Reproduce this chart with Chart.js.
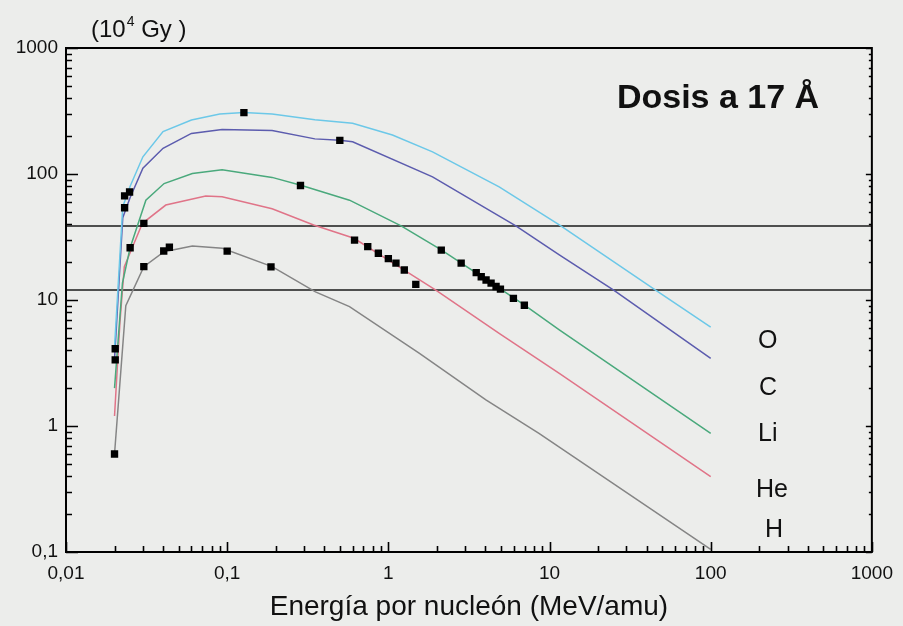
<!DOCTYPE html>
<html>
<head>
<meta charset="utf-8">
<script src="https://cdn.jsdelivr.net/npm/chart.js@4"></script>
<style>
  html, body { margin: 0; padding: 0; background: #ecedeb; }
  #wrap { width: 903px; height: 626px; position: relative; }
</style>
</head>
<body>
<div id="wrap"><canvas id="myChart"></canvas></div>
<script>
// energy per nucleon (MeV/amu), dose (10^4 Gy)
var curveO = [[0.02, 4.2], [0.0225, 55], [0.025, 80], [0.03, 137], [0.04, 217], [0.06, 268], [0.09, 299], [0.127, 307], [0.19, 300], [0.35, 270], [0.6, 253], [1.06, 204], [1.88, 150], [4.87, 79], [11.5, 39.4], [45.5, 12], [100, 6.1]];
var curveC = [[0.02, 3.4], [0.0225, 45], [0.025, 65], [0.03, 111], [0.04, 160], [0.06, 210], [0.093, 226], [0.19, 221], [0.35, 190], [0.5, 185], [0.6, 180], [1.88, 95], [6.18, 38.7], [11.5, 22.8], [25, 12], [100, 3.44]];
var curveLi = [[0.02, 2.0], [0.0224, 13.6], [0.025, 26], [0.0313, 62], [0.0406, 84], [0.0608, 101], [0.093, 108], [0.19, 94], [0.29, 81], [0.574, 62], [1.2, 38.7], [2.13, 25], [4.87, 12.4], [7, 9.1], [11.5, 5.8], [100, 0.875]];
var curveHe = [[0.02, 1.2], [0.0216, 6.6], [0.023, 18.4], [0.0298, 40.6], [0.0416, 56.7], [0.0736, 66.9], [0.093, 66], [0.19, 53], [0.344, 39.4], [0.612, 30.9], [1.35, 16.3], [1.97, 12], [4.87, 5.44], [11.5, 2.62], [100, 0.396]];
var curveH = [[0.02, 0.6], [0.0235, 9], [0.0304, 18.4], [0.0406, 24.2], [0.0608, 26.8], [0.0934, 25.7], [0.19, 18.4], [0.353, 11.6], [0.574, 8.85], [1.56, 3.77], [4.03, 1.61], [8.6, 0.875], [100, 0.105]];

var measured = [[0.02, 0.6], [0.0202, 4.1], [0.0202, 3.35], [0.0231, 54], [0.0231, 67], [0.0248, 72], [0.025, 26], [0.0304, 40.6], [0.0304, 18.4], [0.0404, 24.5], [0.0438, 26.2], [0.1, 24.4], [0.187, 18.3], [0.127, 307], [0.5, 185], [0.285, 81], [0.617, 29.9], [0.745, 26.5], [0.867, 23.5], [1.0, 21.3], [1.115, 19.6], [1.256, 17.3], [1.48, 13.3], [2.13, 24.9], [2.83, 19.6], [3.51, 16.5], [3.77, 15.3], [4.04, 14.4], [4.34, 13.6], [4.66, 12.8], [4.96, 12.2], [5.97, 10.3], [6.98, 9.08]];

var refLevels = [38.7, 12.0];

var ionNames = ["O", "C", "Li", "He", "H"];
var xTickValues = [0.01, 0.1, 1, 10, 100, 1000];
var xTickLabels = ["0,01", "0,1", "1", "10", "100", "1000"];
var yTickValues = [0.1, 1, 10, 100, 1000];
var yTickLabels = ["0,1", "1", "10", "100", "1000"];

var ionColors = ["#6cc8e8", "#5c5cae", "#4aa97c", "#e07488", "#858585"];
var FONT = "'Liberation Sans', Arial, sans-serif";

function toPoints(arr) {
  return arr.map(function (p) { return { x: p[0], y: p[1] }; });
}

var datasets = [];
datasets.push({
  type: "scatter",
  data: toPoints(measured),
  pointStyle: "rect",
  pointRadius: 5.2,
  backgroundColor: "#000",
  borderColor: "#000",
  borderWidth: 0,
  showLine: false
});
[curveO, curveC, curveLi, curveHe, curveH].forEach(function (c, i) {
  datasets.push({
    label: ionNames[i],
    data: toPoints(c),
    borderColor: ionColors[i],
    borderWidth: 1.5,
    pointRadius: 0,
    tension: 0,
    fill: false
  });
});
refLevels.forEach(function (lv) {
  datasets.push({
    data: [{ x: 0.01, y: lv }, { x: 1000, y: lv }],
    borderColor: "#1a1a1a",
    borderWidth: 1.5,
    pointRadius: 0,
    fill: false
  });
});

var decorPlugin = {
  id: "decor",
  afterDraw: function (chart) {
    var ctx = chart.ctx;
    var a = chart.chartArea;
    var xs = chart.scales.x, ys = chart.scales.y;
    ctx.save();
    ctx.strokeStyle = "#000";
    ctx.lineWidth = 2;
    ctx.strokeRect(a.left, a.top, a.right - a.left, a.bottom - a.top);

    // inward ticks
    ctx.lineWidth = 1.6;
    ctx.beginPath();
    var d, m, v, p, len;
    for (d = -2; d <= 3; d++) {
      for (m = 1; m <= 9; m++) {
        v = m * Math.pow(10, d);
        if (v > 1000.0001) break;
        p = Math.round(xs.getPixelForValue(v)) + 0.5;
        len = m === 1 ? 10 : 6;
        ctx.moveTo(p, a.bottom);
        ctx.lineTo(p, a.bottom - len);
      }
    }
    for (d = -1; d <= 3; d++) {
      for (m = 1; m <= 9; m++) {
        v = m * Math.pow(10, d);
        if (v > 1000.0001) break;
        p = Math.round(ys.getPixelForValue(v)) + 0.5;
        len = m === 1 ? 12 : 6;
        ctx.moveTo(a.left, p);
        ctx.lineTo(a.left + len, p);
        ctx.moveTo(a.right, p);
        ctx.lineTo(a.right - (m === 1 ? 6 : 3), p);
      }
    }
    ctx.stroke();

    ctx.fillStyle = "#111";
    // title
    ctx.font = "bold 34px " + FONT;
    ctx.textAlign = "center";
    ctx.textBaseline = "alphabetic";
    ctx.fillText("Dosis a 17 Å", 718, 108);

    // ion labels
    ctx.font = "25px " + FONT;
    ctx.textAlign = "left";
    ctx.textBaseline = "middle";
    var labelX = [758, 759, 758, 756, 765];
    var labelY = [341, 388, 434, 490, 530];
    ionNames.forEach(function (n, i) {
      ctx.fillText(n, labelX[i], labelY[i]);
    });

    // unit above y axis
    ctx.textBaseline = "alphabetic";
    var x0 = 91, base = 37;
    ctx.font = "24px " + FONT;
    ctx.fillText("(10", x0, base);
    x0 += ctx.measureText("(10").width + 1;
    ctx.font = "14px " + FONT;
    ctx.fillText("4", x0, base - 11);
    x0 += ctx.measureText("4").width;
    ctx.font = "24px " + FONT;
    ctx.fillText(" Gy )", x0, base);
    ctx.restore();
  }
};

var ctx = document.getElementById("myChart").getContext("2d");
var myChart = new Chart(ctx, {
  type: "line",
  data: { datasets: datasets },
  plugins: [decorPlugin],
  options: {
    responsive: true,
    maintainAspectRatio: false,
    animation: false,
    layout: { padding: { top: 48, right: 27, bottom: 0, left: 0 } },
    plugins: {
      legend: { display: false },
      tooltip: { enabled: false }
    },
    scales: {
      x: {
        type: "logarithmic",
        min: 0.01,
        max: 1000,
        grid: { display: false, drawTicks: false },
        border: { display: false },
        afterBuildTicks: function (scale) {
          scale.ticks = xTickValues.map(function (v) { return { value: v }; });
        },
        afterFit: function (scale) { scale.height = 74; },
        ticks: {
          autoSkip: false,
          maxRotation: 0,
          padding: 10,
          color: "#111",
          font: { family: FONT, size: 19 },
          callback: function (value, index) { return xTickLabels[index]; }
        },
        title: {
          display: true,
          text: "Energía por nucleón (MeV/amu)",
          color: "#111",
          font: { family: FONT, size: 28 },
          padding: { top: 0, bottom: 2 }
        }
      },
      y: {
        type: "logarithmic",
        min: 0.1,
        max: 1000,
        grid: { display: false, drawTicks: false },
        border: { display: false },
        afterBuildTicks: function (scale) {
          scale.ticks = yTickValues.map(function (v) { return { value: v }; });
        },
        afterFit: function (scale) { scale.width = 66; },
        ticks: {
          autoSkip: false,
          padding: 8,
          color: "#111",
          font: { family: FONT, size: 19 },
          callback: function (value, index) { return yTickLabels[index]; }
        }
      }
    }
  }
});
</script>
</body>
</html>
